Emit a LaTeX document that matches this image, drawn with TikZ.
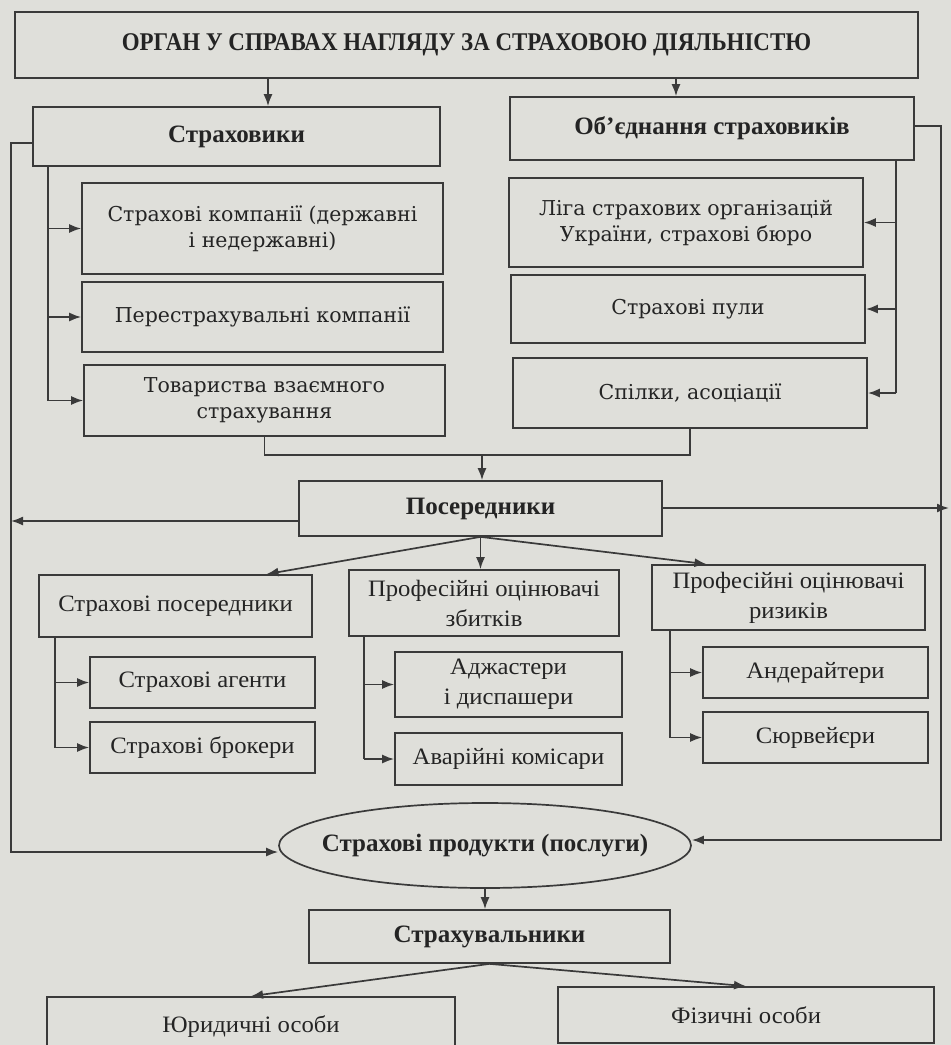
\documentclass[tikz,border=0pt]{standalone}
\usepackage{fontspec}
\setmainfont{DejaVu Serif}
\newfontfamily\titlefont[FakeStretch=0.9]{Liberation Serif}
\newfontfamily\boldfont{Liberation Serif}
\newfontfamily\condfont[FakeStretch=1.05]{Liberation Serif}
\usetikzlibrary{arrows.meta,shapes.geometric}
\definecolor{bgc}{RGB}{223,223,218}
\definecolor{linec}{RGB}{58,58,58}
\definecolor{txtc}{RGB}{36,36,36}
\begin{document}
\begin{tikzpicture}[x=1pt,y=-1pt,
  box/.style={draw=linec, line width=1.7pt, fill=bgc, inner sep=2pt, align=center, text=txtc},
  tfont/.style={font=\titlefont\bfseries\fontsize{25.5}{30}\selectfont},
  bfont/.style={font=\boldfont\bfseries\fontsize{25}{30}\selectfont},
  wfont/.style={font=\fontsize{20.5}{26}\selectfont},
  cfont/.style={font=\condfont\fontsize{23.5}{30}\selectfont},
  ln/.style={draw=linec, line width=1.7pt},
  arr/.style={draw=linec, line width=1.7pt, -{Latex[length=12pt,width=9pt]}}]
\useasboundingbox (0,0) rectangle (951,1045);
\fill[bgc] (0,0) rectangle (951,1045);

% boxes
\node[box,tfont,minimum width=903,minimum height=66] (top) at (466.5,45) {ОРГАН У СПРАВАХ НАГЛЯДУ ЗА СТРАХОВОЮ ДІЯЛЬНІСТЮ};
\node[box,bfont,minimum width=407,minimum height=59] (str) at (236.5,136.5) {Страховики};
\node[box,bfont,minimum width=404,minimum height=63] (obj) at (712,128.5) {Об’єднання страховиків};

\node[box,wfont,minimum width=361,minimum height=91] (sk) at (262.5,228.5) {Страхові компанії (державні\\і недержавні)};
\node[box,wfont,minimum width=361,minimum height=70] (pk) at (262.5,317) {Перестрахувальні компанії};
\node[box,wfont,minimum width=361,minimum height=71] (tv) at (264.5,400.5) {Товариства взаємного\\страхування};

\node[box,wfont,minimum width=354,minimum height=89] (liga) at (686,222.5) {Ліга страхових організацій\\України, страхові бюро};
\node[box,wfont,minimum width=354,minimum height=68] (puli) at (688,309) {Страхові пули};
\node[box,wfont,minimum width=354,minimum height=70] (spil) at (690,393) {Спілки, асоціації};

\node[box,bfont,minimum width=363,minimum height=55] (pos) at (480.5,508.5) {Посередники};

\node[box,cfont,minimum width=273,minimum height=62] (sp) at (175.5,606) {Страхові посередники};
\node[box,cfont,minimum width=270,minimum height=66] (poz) at (484,603) {Професійні оцінювачі\\збитків};
\node[box,cfont,minimum width=273,minimum height=65] (por) at (788.5,597.5) {Професійні оцінювачі\\ризиків};

\node[box,cfont,minimum width=225,minimum height=51] (ag) at (202.5,682.5) {Страхові агенти};
\node[box,cfont,minimum width=225,minimum height=51] (br) at (202.5,747.5) {Страхові брокери};
\node[box,cfont,minimum width=227,minimum height=65] (adj) at (508.5,684.5) {Аджастери\\і диспашери};
\node[box,cfont,minimum width=227,minimum height=52] (av) at (508.5,759) {Аварійні комісари};
\node[box,cfont,minimum width=225,minimum height=51] (and) at (815.5,672.5) {Андерайтери};
\node[box,cfont,minimum width=225,minimum height=51] (sur) at (815.5,737.5) {Сюрвейєри};

\node[box,bfont,ellipse,inner sep=0pt,minimum width=412,minimum height=85] (ell) at (485,845.5) {\makebox[0pt]{Страхові продукти (послуги)}};
\node[box,bfont,minimum width=361,minimum height=53] (stv) at (489.5,936.5) {Страхувальники};
\node[box,cfont,minimum width=408,minimum height=60] (jur) at (251,1027) {Юридичні особи};
\node[box,cfont,minimum width=376,minimum height=56] (fiz) at (746,1015) {Фізичні особи};

% helper coordinates
\coordinate (c1) at (268,0);
\coordinate (c2) at (676,0);
\coordinate (L1) at (11,143);
\coordinate (L2) at (11,852);
\coordinate (L3) at (48,0);
\coordinate (R1) at (896,0);
\coordinate (R2) at (941,126);
\coordinate (R3) at (941,840);
\coordinate (J) at (482,455);
\coordinate (PL) at (11,521);
\coordinate (PR) at (949,508);
\coordinate (S1) at (55,0);
\coordinate (S2) at (364,0);
\coordinate (S3) at (670,0);

% connectors
\draw[arr] (c1 |- top.south) -- (c1 |- str.north);
\draw[arr] (c2 |- top.south) -- (c2 |- obj.north);

\draw[arr] (str.west |- L1) -- (L1) -- (L2) -- (L2 -| ell.west);
\draw[ln] (L3 |- str.south) -- (L3 |- tv.west);
\draw[arr] (L3 |- sk.west) -- (sk.west);
\draw[arr] (L3 |- pk.west) -- (pk.west);
\draw[arr] (L3 |- tv.west) -- (tv.west);

\draw[ln] (R1 |- obj.south) -- (R1 |- spil.east);
\draw[arr] (R1 |- liga.east) -- (liga.east);
\draw[arr] (R1 |- puli.east) -- (puli.east);
\draw[arr] (R1 |- spil.east) -- (spil.east);
\draw[arr] (obj.east |- R2) -- (R2) -- (R3) -- (R3 -| ell.east);

\draw[ln] (tv.south) |- (J);
\draw[ln] (spil.south) |- (J);
\draw[arr] (J) -- (J |- pos.north);

\draw[arr] (PL -| pos.west) -- (PL);
\draw[arr] (PR -| pos.east) -- (PR);

\draw[arr] (pos.south) -- ([xshift=91pt]sp.north);
\draw[arr] (pos.south) -- (pos.south |- poz.north);
\draw[arr] (pos.south) -- ([xshift=-82pt]por.north);

\draw[ln] (S1 |- sp.south) -- (S1 |- br.west);
\draw[arr] (S1 |- ag.west) -- (ag.west);
\draw[arr] (S1 |- br.west) -- (br.west);
\draw[ln] (S2 |- poz.south) -- (S2 |- av.west);
\draw[arr] (S2 |- adj.west) -- (adj.west);
\draw[arr] (S2 |- av.west) -- (av.west);
\draw[ln] (S3 |- por.south) -- (S3 |- sur.west);
\draw[arr] (S3 |- and.west) -- (and.west);
\draw[arr] (S3 |- sur.west) -- (sur.west);

\draw[arr] (ell.south) -- (ell.south |- stv.north);
\draw[arr] (stv.south) -- (jur.north);
\draw[arr] (stv.south) -- (fiz.north);
\end{tikzpicture}
\end{document}
